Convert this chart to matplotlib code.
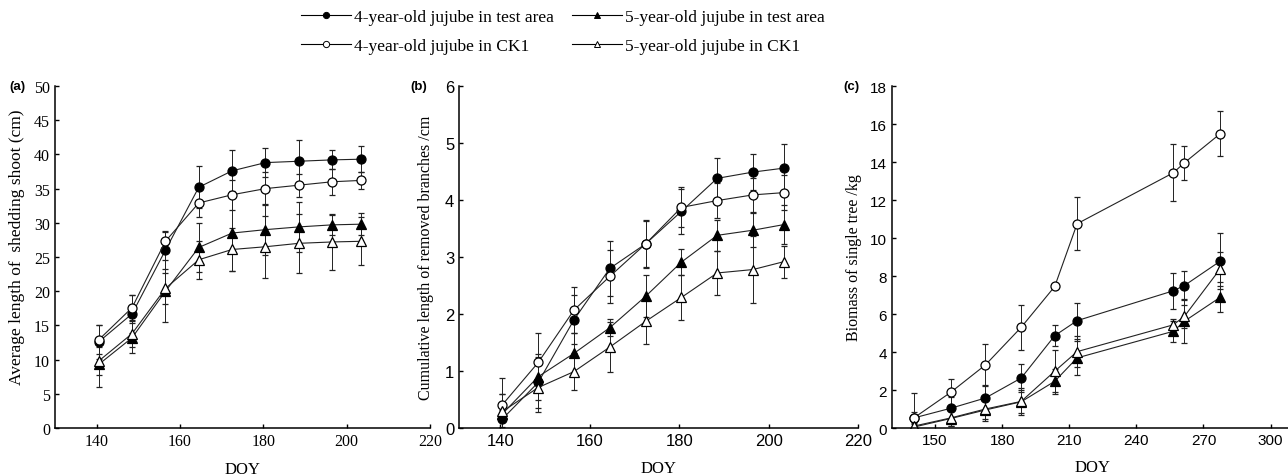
import numpy as np
import matplotlib.pyplot as plt
from matplotlib.lines import Line2D

# DOY sampling dates
doy_ab = [140.5, 148.5, 156.5, 164.5, 172.5, 180.5, 188.5, 196.5, 203.5]
doy_c = [140.5, 157, 172.5, 188.5, 203.5, 213.5, 256.5, 261.5, 277.5]

# (a) average length of shedding shoot (cm)
a_4y_test = [12.6, 16.7, 26.0, 35.2, 37.6, 38.8, 39.0, 39.2, 39.3]
a_4y_test_err = [2.5, 2.8, 2.8, 3.1, 3.0, 2.1, 3.1, 1.4, 1.9]
a_4y_ck = [12.9, 17.6, 27.3, 32.9, 34.1, 35.0, 35.5, 36.0, 36.2]
a_4y_ck_err = [2.1, 1.9, 1.4, 2.0, 2.2, 2.4, 1.7, 1.9, 1.3]
a_5y_test = [9.3, 13.2, 20.0, 26.4, 28.5, 29.0, 29.4, 29.7, 29.8]
a_5y_test_err = [3.3, 2.2, 4.5, 3.6, 5.5, 3.7, 3.6, 1.5, 1.6]
a_5y_ck = [9.8, 13.8, 20.4, 24.6, 26.1, 26.5, 27.0, 27.2, 27.3]
a_5y_ck_err = [2.0, 2.0, 2.2, 2.8, 3.1, 4.5, 4.3, 4.1, 3.5]

# (b) cumulative length of removed branches (cm)
b_4y_test = [0.16, 0.80, 1.90, 2.80, 3.23, 3.80, 4.38, 4.49, 4.56]
b_4y_test_err = [0.15, 0.45, 0.43, 0.48, 0.40, 0.40, 0.35, 0.31, 0.42]
b_4y_ck = [0.41, 1.15, 2.07, 2.66, 3.23, 3.87, 3.99, 4.09, 4.13]
b_4y_ck_err = [0.46, 0.51, 0.40, 0.46, 0.42, 0.35, 0.31, 0.30, 0.30]
b_5y_test = [0.25, 0.90, 1.31, 1.76, 2.31, 2.91, 3.38, 3.47, 3.57]
b_5y_test_err = [0.35, 0.40, 0.35, 0.15, 0.37, 0.23, 0.27, 0.30, 0.35]
b_5y_ck = [0.29, 0.71, 0.99, 1.42, 1.87, 2.29, 2.72, 2.78, 2.92]
b_5y_ck_err = [0.30, 0.43, 0.32, 0.44, 0.40, 0.40, 0.39, 0.59, 0.28]

# (c) biomass of single tree (kg)
c_4y_test = [0.53, 1.04, 1.58, 2.63, 4.86, 5.65, 7.22, 7.50, 8.78]
c_4y_test_err = [0.30, 0.60, 0.70, 0.72, 0.54, 0.95, 0.93, 0.75, 1.47]
c_4y_ck = [0.53, 1.88, 3.32, 5.30, 7.45, 10.75, 13.43, 13.96, 15.49]
c_4y_ck_err = [1.30, 0.70, 1.10, 1.20, 0.10, 1.40, 1.50, 0.90, 1.20]
c_5y_test = [0.05, 0.50, 0.95, 1.38, 2.46, 3.69, 5.09, 5.62, 6.88]
c_5y_test_err = [0.20, 0.40, 0.60, 0.70, 0.66, 0.90, 0.55, 1.15, 0.78]
c_5y_ck = [0.10, 0.53, 1.00, 1.40, 2.99, 4.02, 5.43, 5.88, 8.38]
c_5y_ck_err = [0.30, 0.40, 0.50, 0.60, 1.10, 0.80, 0.30, 0.60, 0.90]

labels = ["4-year-old jujube in test area", "4-year-old jujube in CK1",
          "5-year-old jujube in test area", "5-year-old jujube in CK1"]
# marker, fill
styles = [("o", "black"), ("o", "white"), ("^", "black"), ("^", "white")]

serif = ["Liberation Serif", "DejaVu Serif"]
sans = ["Liberation Sans", "DejaVu Sans"]
plt.rcParams["axes.linewidth"] = 1.1

fig = plt.figure(figsize=(12.88, 4.77), dpi=100)
ax_a = fig.add_axes([0.0427, 0.1006, 0.2912, 0.717])
ax_b = fig.add_axes([0.3564, 0.1006, 0.3098, 0.717])
ax_c = fig.add_axes([0.6925, 0.1006, 0.3113, 0.717])

panels = [
    (ax_a, doy_ab, [(a_4y_test, a_4y_test_err), (a_4y_ck, a_4y_ck_err),
                    (a_5y_test, a_5y_test_err), (a_5y_ck, a_5y_ck_err)]),
    (ax_b, doy_ab, [(b_4y_test, b_4y_test_err), (b_4y_ck, b_4y_ck_err),
                    (b_5y_test, b_5y_test_err), (b_5y_ck, b_5y_ck_err)]),
    (ax_c, doy_c, [(c_4y_test, c_4y_test_err), (c_4y_ck, c_4y_ck_err),
                   (c_5y_test, c_5y_test_err), (c_5y_ck, c_5y_ck_err)]),
]

for ax, x, series in panels:
    for (y, err), (mk, fc) in zip(series, styles):
        ax.errorbar(x, y, yerr=err, color="#222222", lw=0.8, elinewidth=0.7,
                    capsize=2.5, capthick=0.7, marker=mk, markersize=6.5,
                    markerfacecolor=fc, markeredgecolor="black", markeredgewidth=0.9)
    ax.spines["top"].set_visible(False)
    ax.spines["right"].set_visible(False)
    ax.tick_params(direction="in", length=3, width=1)

# panel (a): serif ticks
ax_a.set_xlim(130, 220)
ax_a.set_ylim(0, 50)
ax_a.set_xticks([140, 160, 180, 200, 220])
ax_a.set_yticks(range(0, 51, 5))
for t in ax_a.get_xticklabels() + ax_a.get_yticklabels():
    t.set_family(serif)
    t.set_fontsize(11.5)
ax_a.set_ylabel("Average length of  shedding shoot (cm)", family=serif, fontsize=12.5)
ax_a.yaxis.set_label_coords(-0.08, 0.53)

ax_b.set_xlim(130.8, 220)
ax_b.set_ylim(0, 6)
ax_b.set_xticks([140, 160, 180, 200, 220])
ax_b.set_yticks(range(0, 7))
for t in ax_b.get_xticklabels() + ax_b.get_yticklabels():
    t.set_family(sans)
    t.set_fontsize(12)
ax_b.set_ylabel("Cumulative length of removed branches /cm", family=serif, fontsize=11.5, labelpad=8)

ax_c.set_xlim(130.7, 310)
ax_c.set_ylim(0, 18)
ax_c.set_xticks(range(150, 301, 30))
ax_c.set_yticks(range(0, 19, 2))
for t in ax_c.get_xticklabels() + ax_c.get_yticklabels():
    t.set_family(sans)
    t.set_fontsize(11)
ax_c.set_ylabel("Biomass of single tree /kg", family=serif, fontsize=11.5, labelpad=6)

for ax, letter in [(ax_a, "(a)"), (ax_b, "(b)"), (ax_c, "(c)")]:
    ax.set_xlabel("DOY", family=serif, fontsize=12, labelpad=9)
    ax.text(-0.1, 1.0, letter, transform=ax.transAxes, family=sans,
            fontsize=9.5, fontweight="bold", ha="center", va="center")

handles = [Line2D([], [], color="black", lw=0.8, marker=mk, markersize=4.5,
                  markerfacecolor=fc, markeredgecolor="black", markeredgewidth=0.7)
           for mk, fc in styles]
fig.legend(handles, labels, ncol=2, loc="upper center", bbox_to_anchor=(0.437, 1.012),
           frameon=False, prop={"family": serif, "size": 12.5}, handlelength=2.9,
           columnspacing=1.0, handletextpad=0.2, labelspacing=0.75)

fig.savefig("out.png", dpi=100)
